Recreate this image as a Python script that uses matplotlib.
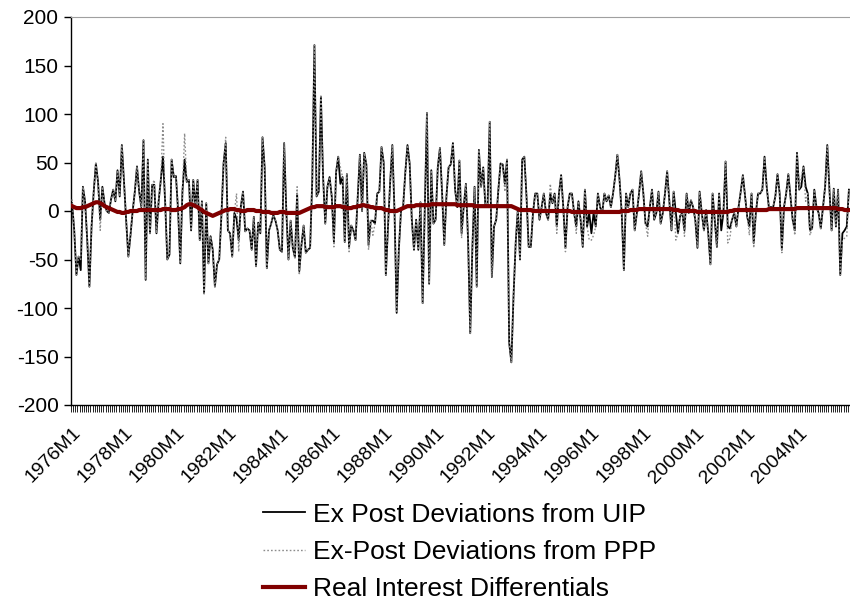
import matplotlib
matplotlib.use("Agg")
import matplotlib.pyplot as plt
from matplotlib.ticker import FixedLocator, MultipleLocator

plt.rcParams['font.family'] = ['Liberation Sans', 'DejaVu Sans']
plt.rcParams['axes.unicode_minus'] = False

# Monthly observations 1976M1 .. 2005M12
years = list(range(1976, 2006))
months = [f"{y}M{m}" for y in years for m in range(1, 13)]
tick_labels = [f"{y}M1" for y in range(1976, 2005, 2)]

uip = [
    8, -20, -66, -47, -61, 25, 10, -30, -78, -16, 20, 49,
    30, -9, 25, 8, 0, -2, 12, 22, 10, 42, 15, 68,
    30, -10, -47, -25, 0, 20, 46, 20, 4, 73, -71, 53,
    -23, 27, 27, -23, 10, 32, 56, 10, -50, -45, 53, 35,
    36, 0, -54, 20, 53, 30, 32, -20, 32, 5, 32, -30,
    10, -85, 8, -54, -26, -40, -78, -55, -50, -5, 49, 70,
    -20, -23, -47, -2, -8, -30, 5, 20, -21, -18, -20, -40,
    -6, -57, -12, -23, 76, 45, -59, -20, -13, -4, -10, -20,
    -40, -42, 70, 0, -50, -10, -38, -48, 18, -62, -35, -15,
    -43, -40, -38, 32, 171, 15, 20, 118, 35, -13, 25, 35,
    15, -32, 40, 56, 28, 35, -32, 38, -37, -15, -20, -30,
    15, 58, 0, 60, 48, -35, -10, -10, -13, 18, 20, 66,
    50, -66, -16, 30, 68, 0, -105, -40, 0, 5, 40, 68,
    49, -9, -40, -9, -40, 9, -95, 1, 101, -75, 42, -13,
    -9, 45, 65, 18, -35, 15, 45, 48, 70, 22, 4, 52,
    -23, 5, 28, -30, -126, -37, 25, -78, 63, 25, 45, 5,
    5, 92, -68, -16, -9, 22, 49, 48, 28, 53, -136, -156,
    -88, -33, 2, -50, 53, 56, 15, -37, -37, -2, 18, 18,
    -9, 4, 18, -2, -9, 18, 8, 18, -16, 18, 37, 4,
    -38, 4, 18, 18, -2, -16, 10, -9, -37, 22, -16, -2,
    -23, -2, -16, 18, 4, -2, 18, 10, 16, 4, 18, 36,
    58, 32, -2, -61, 18, 4, 18, 22, -20, -2, 18, 41,
    18, -13, -16, 4, 22, -9, -2, 20, -13, -2, 18, 41,
    11, -20, 20, -2, -23, -5, -2, -20, 18, -2, 11, 4,
    -9, -38, 20, -2, -20, 1, -23, -55, 18, -9, -37, 18,
    -20, -2, 51, -16, -18, -9, -2, -16, 4, 20, 37, 15,
    -6, -16, 18, -33, -2, 18, 18, 22, 56, 25, 4, 4,
    4, 15, 38, 18, -40, 4, 18, 38, 15, -9, -20, 60,
    22, 25, 46, 25, 18, -20, -18, 22, 4, -2, -18, 4,
    25, 68, 22, -20, 23, -16, 22, -66, -23, -20, -16, 22,
]

ppp = [
    12, -20, -66, -47, -50, 25, 10, -30, -78, -16, 20, 49,
    30, -20, 25, 8, 0, -2, 12, 22, 10, 42, 15, 68,
    30, -10, -47, -25, 0, 20, 46, 20, 4, 73, -71, 53,
    -23, 27, 32, -23, 10, 32, 90, 10, -50, -45, 53, 35,
    36, 0, -54, 20, 80, 30, 32, -20, 32, 5, 32, -30,
    10, -85, 8, -54, -26, -40, -78, -55, -50, -5, 49, 76,
    -20, -23, -47, -2, 18, -42, 5, 20, -21, -18, -20, -40,
    -6, -57, -12, -23, 76, 45, -59, -20, -13, -4, -10, -20,
    -40, -42, 70, 0, -50, -10, -38, -48, 25, -66, -35, -15,
    -43, -40, -38, 32, 171, 15, 20, 118, 35, -13, 25, 35,
    15, -37, 40, 56, 45, 35, -32, 38, -42, -15, -20, -30,
    15, 58, 0, 60, 48, -40, -10, -25, -13, 18, 20, 66,
    50, -66, -16, 30, 68, 0, -105, -40, 0, 5, 40, 68,
    49, -14, -40, -9, -40, 9, -95, 1, 101, -75, 42, -13,
    -9, 45, 65, 18, -35, 15, 45, 48, 70, 22, 4, 52,
    -28, 5, 28, -30, -126, -37, 25, -78, 63, 25, 45, 5,
    5, 92, -68, -16, -9, 22, 49, 48, 20, 53, -136, -156,
    -88, -33, 2, -50, 53, 56, 15, -37, -37, -2, 18, 18,
    -9, 4, 18, -2, -9, 28, 8, 18, -23, 18, 37, 4,
    -42, 4, 18, 18, -2, -23, 10, -9, -37, 22, -16, -30,
    -30, -25, -16, 18, 4, -2, 18, 10, 16, 4, 18, 36,
    58, 32, -2, -61, 18, 4, 18, 22, -20, -2, 18, 41,
    18, -13, -26, 4, 22, -9, -2, 20, -13, -2, 18, 41,
    11, -20, 20, -30, -23, -5, -2, -26, 18, -2, 11, 4,
    -9, -38, 20, -2, -20, 1, -23, -55, 18, -9, -37, 18,
    -9, -2, 51, -33, -28, -9, -2, -16, 4, 20, 37, 15,
    -6, -25, 18, -38, -2, 18, 18, 22, 56, 25, 4, 4,
    4, 15, 38, 18, -43, 4, 18, 38, 15, -9, -25, 60,
    22, 35, 46, 10, 18, -25, -18, 22, 4, -2, -18, 4,
    25, 68, 22, -20, 23, -16, 22, -66, -30, -28, -26, 22,
]

rid = [
    5, 4, 3, 3, 3, 4, 4, 5, 6, 7, 8, 9,
    9, 8, 7, 5, 4, 3, 2, 1, 0, -1, -1, -2,
    -2, -1, -1, 0, 0, 0, 0, 1, 1, 1, 1, 1,
    1, 1, 1, 1, 1, 1, 2, 2, 2, 2, 1, 1,
    1, 2, 2, 3, 4, 6, 7, 7, 6, 5, 4, 2,
    1, -1, -2, -3, -4, -5, -4, -3, -2, -1, 0, 1,
    1, 2, 2, 2, 1, 1, 0, 0, 0, 1, 1, 1,
    1, 0, 0, 0, -1, -1, -1, -1, -2, -2, -2, -2,
    -1, -1, -1, -2, -2, -2, -2, -2, -2, -2, -1, 0,
    1, 2, 3, 4, 4, 5, 5, 5, 5, 4, 4, 4,
    4, 4, 5, 5, 5, 4, 4, 3, 3, 3, 4, 4,
    5, 5, 6, 6, 5, 5, 4, 4, 3, 3, 3, 3,
    2, 1, 1, 0, 0, 0, 0, 1, 2, 3, 4, 5,
    5, 5, 5, 6, 6, 6, 6, 6, 6, 6, 7, 7,
    7, 7, 7, 7, 7, 7, 7, 7, 7, 7, 6, 6,
    6, 6, 6, 6, 6, 6, 5, 5, 5, 5, 5, 5,
    5, 5, 5, 5, 5, 5, 5, 5, 5, 5, 5, 5,
    4, 3, 2, 1, 1, 1, 1, 1, 1, 0, 0, 0,
    0, 0, 0, 0, 0, 0, 0, 0, 0, 0, 0, 0,
    0, 0, 0, -1, -1, -1, -1, -1, -1, -1, -1, -1,
    -1, -1, -1, -1, -1, -1, -1, -1, -1, -1, -1, -1,
    -1, -1, 0, 0, 0, 0, 1, 1, 1, 1, 2, 2,
    2, 2, 2, 2, 2, 2, 2, 2, 2, 2, 2, 2,
    2, 2, 1, 1, 1, 0, 0, 0, 0, 0, 0, 0,
    0, -1, -1, -1, -1, -1, -1, -1, -1, -1, -1, -1,
    -1, -1, -1, -1, 0, 0, 1, 1, 1, 1, 1, 1,
    1, 1, 1, 1, 1, 1, 1, 1, 1, 1, 2, 2,
    2, 2, 2, 2, 2, 2, 2, 2, 2, 2, 2, 3,
    3, 3, 3, 3, 3, 3, 3, 3, 3, 3, 3, 3,
    3, 3, 3, 3, 3, 3, 2, 2, 2, 1, 1, 1,
]

x = list(range(len(months)))

fig = plt.figure(figsize=(8.5, 6.11), dpi=100)
ax = fig.add_axes([71/850, 1 - 405/611, 779/850, 388/611])

l1, = ax.plot(x, uip, color='black', lw=1.3, solid_joinstyle='round', zorder=3,
              label='Ex Post Deviations from UIP')
l2, = ax.plot(x, ppp, color='#8c8c8c', lw=1.0, ls=(0, (1.2, 1.5)), zorder=4,
              label='Ex-Post Deviations from PPP')
l3, = ax.plot(x, rid, color='#800000', lw=3.0, zorder=5,
              label='Real Interest Differentials')

ax.set_xlim(-0.5, len(months) - 0.5)
ax.set_ylim(-200, 200)
ax.yaxis.set_major_locator(MultipleLocator(50))
ax.tick_params(axis='y', direction='out', length=5, width=1, labelsize=15, pad=4)

tick_pos = [months.index(t) for t in tick_labels]
ax.set_xticks(tick_pos)
ax.set_xticklabels(tick_labels, rotation=45, ha='right', rotation_mode='anchor',
                   fontsize=14)
ax.tick_params(axis='x', which='major', length=0, pad=14)
ax.xaxis.set_minor_locator(FixedLocator([i - 0.5 for i in range(len(months) + 1)]))
ax.tick_params(axis='x', which='minor', direction='out', length=5, width=0.6)

for s in ['left', 'bottom']:
    ax.spines[s].set_color('black')
    ax.spines[s].set_linewidth(1.0)
ax.spines['top'].set_color('#a0a0a0')
ax.spines['right'].set_visible(False)

fig.legend(handles=[l1, l2, l3], loc='upper center', bbox_to_anchor=(0.541, 0.199),
           frameon=False, fontsize=19, handlelength=1.6, handletextpad=0.3,
           labelspacing=0.5, borderpad=0)

fig.savefig('out.png', dpi=100)
